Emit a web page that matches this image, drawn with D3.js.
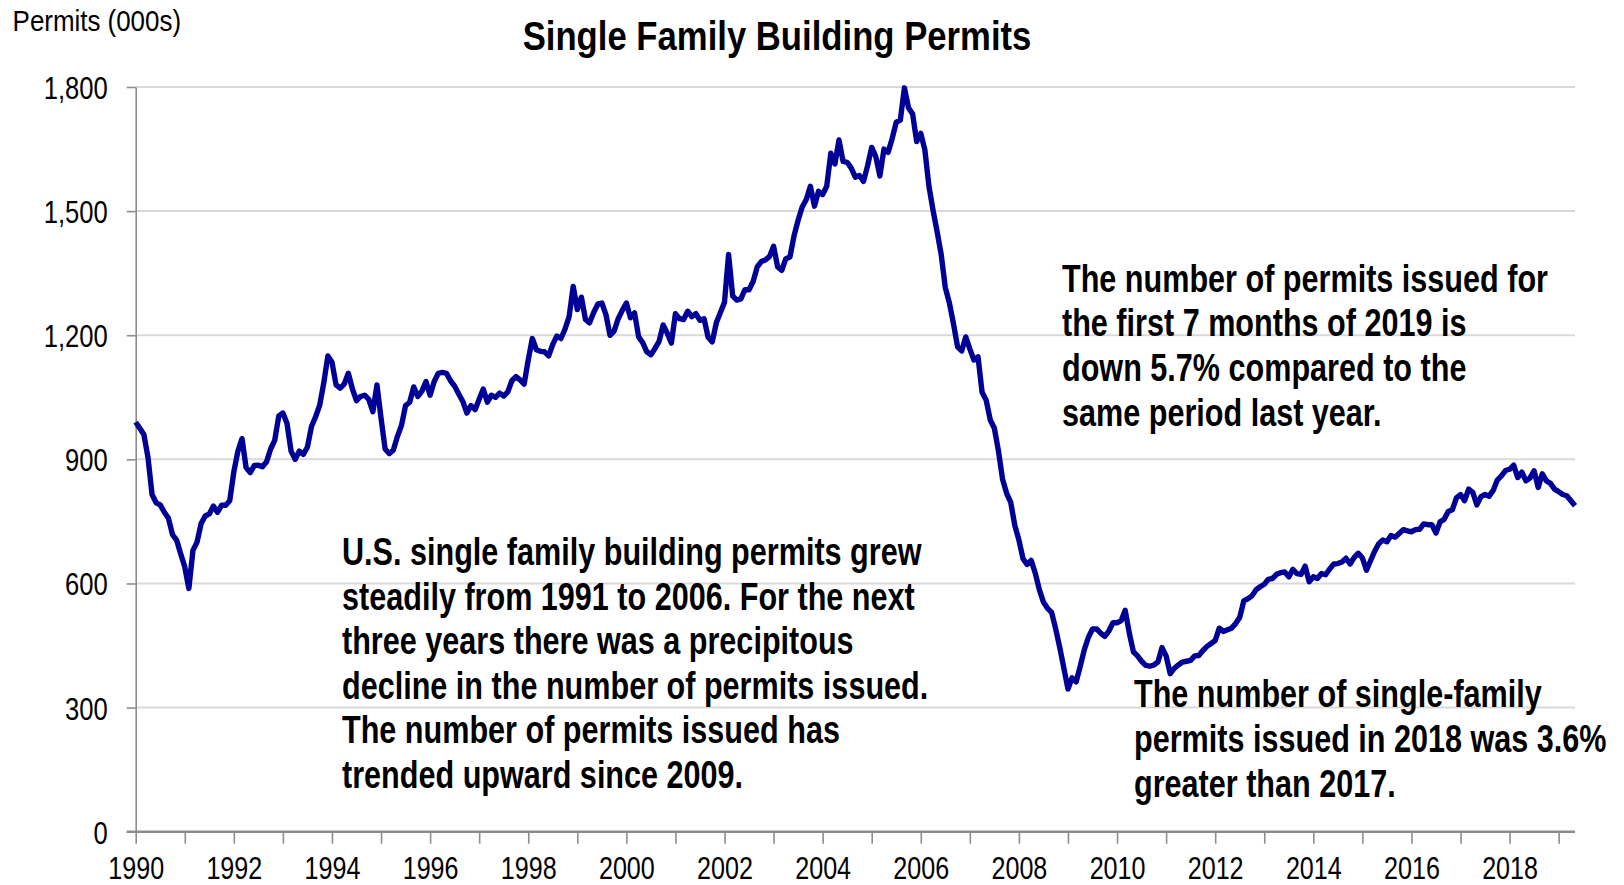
<!DOCTYPE html>
<html>
<head>
<meta charset="utf-8">
<script src="https://cdn.jsdelivr.net/npm/d3@7"></script>
<style>
  body { margin: 0; background: #fff; }
  text { font-family: "Liberation Sans", Arial, sans-serif; fill: #000; }
</style>
</head>
<body>
<div id="chart"></div>
<script>
// monthly single family permits (000s, SAAR), Jan 1990 .. May 2019
var startYear = 1990;
var permits = [
    990, 975, 960, 905, 815, 795, 790, 772, 758, 718, 705, 672,        // 1990
    640, 588, 680, 700, 745, 763, 768, 787, 772, 789, 789, 800,        // 1991
    870, 920, 950, 880, 868, 885, 886, 882, 894, 925, 946, 1005,       // 1992
    1012, 987, 920, 900, 920, 912, 930, 980, 1003, 1031, 1085, 1150,   // 1993
    1135, 1080, 1072, 1082, 1108, 1070, 1042, 1052, 1055, 1045, 1015, 1080, // 1994
    1000, 925, 914, 922, 955, 982, 1030, 1038, 1075, 1052, 1065, 1088,  // 1995
    1055, 1088, 1108, 1110, 1108, 1090, 1077, 1058, 1040, 1012, 1030, 1020, // 1996
    1045, 1070, 1038, 1055, 1050, 1060, 1053, 1063, 1090, 1100, 1092, 1082, // 1997
    1140, 1192, 1165, 1161, 1160, 1150, 1178, 1198, 1192, 1215, 1245, 1318, // 1998
    1262, 1292, 1238, 1230, 1255, 1275, 1278, 1250, 1200, 1210, 1240, 1260, // 1999
    1278, 1242, 1254, 1196, 1182, 1160, 1153, 1168, 1185, 1225, 1205, 1181, // 2000
    1252, 1240, 1238, 1258, 1245, 1252, 1236, 1240, 1195, 1184, 1230, 1255, // 2001
    1280, 1395, 1295, 1285, 1288, 1310, 1310, 1330, 1365, 1378, 1382, 1390, // 2002
    1415, 1365, 1357, 1385, 1389, 1440, 1478, 1510, 1528, 1560, 1512, 1548, // 2003
    1540, 1560, 1640, 1614, 1672, 1620, 1618, 1604, 1582, 1586, 1572, 1610, // 2004
    1654, 1632, 1585, 1650, 1642, 1675, 1715, 1720, 1798, 1750, 1735, 1668, // 2005
    1688, 1648, 1560, 1502, 1450, 1395, 1315, 1278, 1228, 1172, 1162, 1196, // 2006
    1167, 1140, 1148, 1062, 1043, 995, 975, 920, 852, 818, 796, 740,    // 2007
    705, 660, 646, 656, 625, 585, 555, 540, 530, 490, 445, 395,         // 2008
    345, 372, 362, 400, 440, 470, 490, 490, 480, 472, 485, 505,         // 2009
    505, 510, 535, 480, 435, 425, 412, 402, 400, 403, 410, 445,         // 2010
    425, 382, 395, 403, 410, 412, 414, 425, 426, 438, 448, 455,         // 2011
    462, 492, 484, 488, 492, 503, 518, 558, 563, 570, 585, 592,         // 2012
    598, 610, 612, 622, 626, 628, 616, 634, 624, 622, 642, 604,         // 2013
    616, 612, 624, 621, 635, 647, 648, 652, 661, 647, 663, 673,         // 2014
    662, 632, 655, 678, 696, 705, 701, 716, 712, 721, 730, 727,         // 2015
    725, 730, 731, 744, 742, 742, 722, 749, 755, 774, 778, 807,         // 2016
    815, 800, 828, 820, 790, 810, 815, 811, 825, 850, 860, 873,         // 2017
    876, 886, 856, 869, 848, 855, 872, 832, 865, 848, 842, 828,         // 2018
    822, 815, 812, 800, 788                                             // 2019
];

var yTicks = [0, 300, 600, 900, 1200, 1500, 1800];
var yearTicks = d3.range(1990, 2020);          // tick mark every January
var yearLabels = d3.range(1990, 2019, 2);       // labelled every other year

var title = "Single Family Building Permits";
var yTitle = "Permits (000s)";
var noteLeft = ["U.S. single family building permits grew",
    "steadily from 1991 to 2006. For the next",
    "three years there was a precipitous",
    "decline in the number of permits issued.",
    "The number of permits issued has",
    "trended upward since 2009."];
var noteRight = ["The number of permits issued for",
    "the first 7 months of 2019 is",
    "down 5.7% compared to the",
    "same period last year."];
var noteBottom = ["The number of single-family",
    "permits issued in 2018 was 3.6%",
    "greater than 2017."];

var w = 1624;
var h = 885;
var plotLeft = 135.7, plotRight = 1575, plotTop = 87, plotBottom = 831.7;

var svg = d3.select("#chart")
    .append("svg")
    .attr("width", w)
    .attr("height", h);

// squeeze text horizontally around its anchor (narrow font look)
function squeeze(sel, ratio) {
    sel.each(function () {
        var t = d3.select(this);
        var x = +t.attr("x") || 0;
        var y = +t.attr("y") || 0;
        t.attr("x", 0).attr("y", 0)
            .attr("transform", "translate(" + x + "," + y + ") scale(" + ratio + ",1)");
    });
}

var xScale = d3.scaleLinear()
    .domain([0, permits.length - 1])
    .range([plotLeft, plotRight]);

var yScale = d3.scaleLinear()
    .domain([0, 1800])
    .range([plotBottom, plotTop]);

function monthOf(year) { return (year - startYear) * 12; }

// gridlines
svg.append("g")
    .selectAll("line")
    .data(yTicks.filter(function (d) { return d > 0; }))
    .enter().append("line")
    .attr("x1", plotLeft)
    .attr("x2", plotRight)
    .attr("y1", function (d) { return yScale(d); })
    .attr("y2", function (d) { return yScale(d); })
    .attr("stroke", "#d9d9d9")
    .attr("stroke-width", 2);

// y axis
var yAxis = d3.axisLeft(yScale)
    .tickValues(yTicks)
    .tickSize(9)
    .tickSizeOuter(0)
    .tickPadding(19)
    .tickFormat(d3.format(","));

var gy = svg.append("g")
    .attr("transform", "translate(" + plotLeft + ",0)")
    .call(yAxis);
gy.select(".domain").attr("stroke", "#8c8c8c").attr("stroke-width", 1.6);
gy.selectAll(".tick line").attr("stroke", "#8c8c8c").attr("stroke-width", 1.6);
gy.selectAll(".tick text")
    .attr("font-size", 32)
    .attr("font-family", "Liberation Sans, Arial, sans-serif")
    .attr("dy", "0.36em")
    .call(squeeze, 0.8);

// x axis
var xAxis = d3.axisBottom(xScale)
    .tickValues(yearTicks.map(monthOf))
    .tickSize(12)
    .tickSizeOuter(0)
    .tickPadding(12)
    .tickFormat(function (d) {
        var yr = startYear + d / 12;
        return yearLabels.indexOf(yr) > -1 ? yr : "";
    });

var gx = svg.append("g")
    .attr("transform", "translate(0," + plotBottom + ")")
    .call(xAxis);
gx.select(".domain").remove();
gx.selectAll(".tick line").attr("stroke", "#8c8c8c").attr("stroke-width", 1.6);
gx.selectAll(".tick text")
    .attr("font-size", 31)
    .attr("font-family", "Liberation Sans, Arial, sans-serif")
    .attr("dy", "0.74em")
    .call(squeeze, 0.81);

gx.append("line")
    .attr("x1", plotLeft - 9)
    .attr("x2", plotRight)
    .attr("y1", 0)
    .attr("y2", 0)
    .attr("stroke", "#8c8c8c")
    .attr("stroke-width", 2.6);

// the series
var line = d3.line()
    .x(function (d, i) { return xScale(i); })
    .y(function (d) { return yScale(d); });

svg.append("path")
    .datum(permits)
    .attr("d", line)
    .attr("fill", "none")
    .attr("stroke", "#000096")
    .attr("stroke-width", 5.4)
    .attr("stroke-linejoin", "round");

// titles
svg.append("text")
    .text(title)
    .attr("x", 777)
    .attr("y", 50)
    .attr("text-anchor", "middle")
    .attr("font-weight", "bold")
    .attr("font-size", 41)
    .call(squeeze, 0.846);

svg.append("text")
    .text(yTitle)
    .attr("x", 12.6)
    .attr("y", 31)
    .attr("font-size", 30)
    .call(squeeze, 0.864);

// notes
function note(lines, x, y0, step) {
    svg.append("g").selectAll("text")
        .data(lines)
        .enter().append("text")
        .text(function (d) { return d; })
        .attr("x", x)
        .attr("y", function (d, i) { return y0 + i * step; })
        .attr("font-weight", "bold")
        .attr("font-size", 38)
        .call(squeeze, 0.805);
}
note(noteLeft, 342, 565, 44.5);
note(noteRight, 1062, 291.5, 44.8);
note(noteBottom, 1134, 707, 45);
</script>
</body>
</html>
